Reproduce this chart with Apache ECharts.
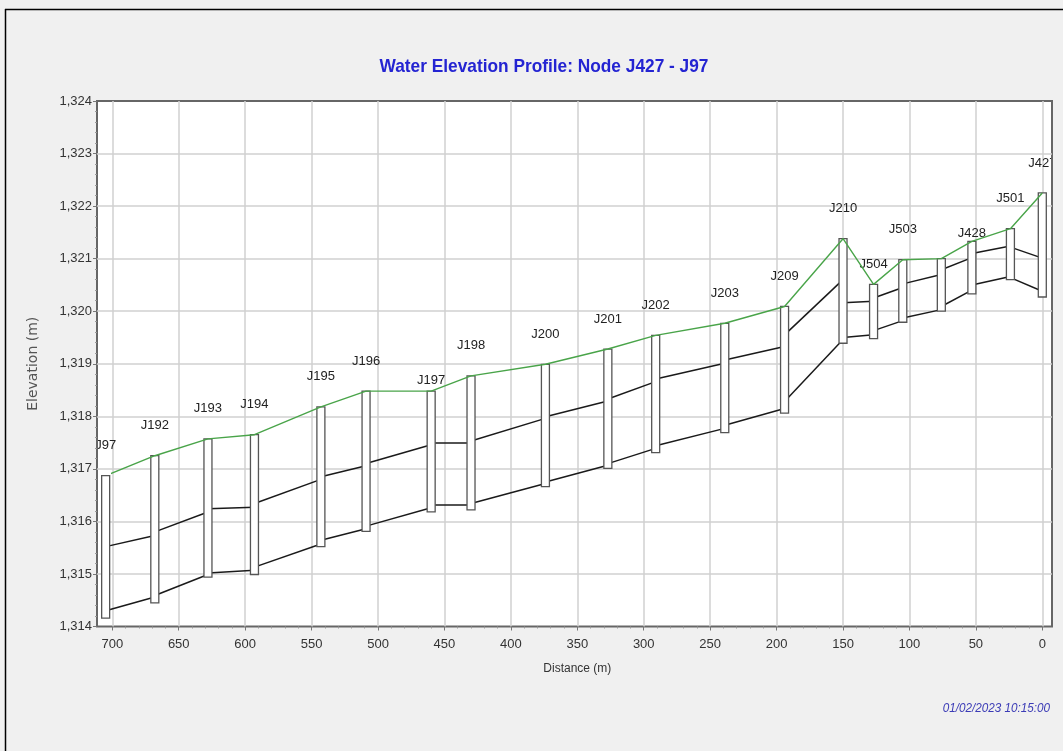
<!DOCTYPE html>
<html>
<head>
<meta charset="utf-8">
<script src="https://cdn.jsdelivr.net/npm/echarts@6/dist/echarts.min.js"></script>
<style>
  html, body { margin: 0; padding: 0; background: #f0f0f0; }
  #chart { width: 1063px; height: 751px; }
</style>
</head>
<body>
<div id="chart"></div>
<script>
// Nodes along the profile, listed from the far end (J97) to J427
const nodeNames = ['J97', 'J192', 'J193', 'J194', 'J195', 'J196', 'J197', 'J198', 'J200', 'J201',
                   'J202', 'J203', 'J209', 'J210', 'J504', 'J503', '', 'J428', 'J501', 'J427'];
// Distance from J427 (m)
const distance = [705, 668, 628, 593, 543, 509, 460, 430, 374, 327, 291, 239, 194, 150, 127, 105, 76, 53, 24, 0];
// Water (hydraulic grade) elevation at each node (m)
const waterElevation = [1316.87, 1317.25, 1317.57, 1317.65, 1318.18, 1318.48, 1318.48, 1318.77, 1318.99, 1319.28,
                        1319.54, 1319.77, 1320.09, 1321.38, 1320.51, 1320.98, 1321.00, 1321.33, 1321.57, 1322.25];
// Bottom of each node structure (m)
const nodeBase = [1314.16, 1314.45, 1314.94, 1314.99, 1315.52, 1315.81, 1316.18, 1316.22, 1316.66, 1317.01,
                  1317.31, 1317.69, 1318.06, 1319.39, 1319.48, 1319.79, 1320.00, 1320.33, 1320.60, 1320.27];
// Pipe crown / invert where a pipe meets a node:
// "In" = pipe arriving from the left-hand neighbour, "Out" = pipe leaving to the right-hand neighbour
const crownIn   = [null, 1315.73, 1316.18, 1316.27, 1316.80, 1317.06, 1317.46, 1317.50, 1317.96, 1318.29,
                   1318.66, 1319.01, 1319.33, 1320.60, 1320.19, 1320.45, 1320.70, 1321.02, 1321.24, 1321.01];
const crownOut  = [1315.52, 1315.80, 1316.24, 1316.34, 1316.85, 1317.10, 1317.50, 1317.53, 1317.99, 1318.33,
                   1318.71, 1319.07, 1319.55, 1320.16, 1320.25, 1320.52, 1320.79, 1321.10, 1321.22, null];
const invertIn  = [null, 1314.56, 1314.99, 1315.07, 1315.57, 1315.86, 1316.26, 1316.31, 1316.72, 1317.07,
                   1317.39, 1317.77, 1318.15, 1319.46, 1319.55, 1319.82, 1320.03, 1320.40, 1320.66, 1320.38];
const invertOut = [1314.30, 1314.59, 1315.02, 1315.13, 1315.64, 1315.91, 1316.31, 1316.34, 1316.75, 1317.10,
                   1317.44, 1317.83, 1318.28, 1319.50, 1319.63, 1319.87, 1320.09, 1320.50, 1320.64, null];

// Axis ranges
const elevationMin = 1314, elevationMax = 1324;
const frameDistanceMin = -7.3, frameDistanceMax = 711.5;   // extent of the plot frame
const scaleDistanceMin = 0, scaleDistanceMax = 700;        // labelled distance scale

const titleText = 'Water Elevation Profile: Node J427 - J97';
const timeStamp = '01/02/2023 10:15:00';

// Label placement (pixels above the node top); a few labels sit lower
const labelLiftDefault = 30;
const labelLift = { J197: 11, J504: 20, J428: 8 };

const sans = '"Liberation Sans", Arial, sans-serif';

// Pipe segments between neighbouring nodes
const crownSegments = [];
const invertSegments = [];
for (let i = 0; i < distance.length - 1; i++) {
  crownSegments.push({ coords: [[distance[i], crownOut[i]], [distance[i + 1], crownIn[i + 1]]] });
  invertSegments.push({ coords: [[distance[i], invertOut[i]], [distance[i + 1], invertIn[i + 1]]] });
}

const hiddenAxis = {
  show: false,
  axisLine: { show: false, onZero: false }, axisTick: { show: false }, minorTick: { show: false },
  axisLabel: { show: false }, splitLine: { show: false }, minorSplitLine: { show: false }
};

const chart = echarts.init(document.getElementById('chart'));

chart.setOption({
  backgroundColor: '#f0f0f0',
  animation: false,
  graphic: [
    { type: 'line', shape: { x1: 5, y1: 9.5, x2: 1063, y2: 9.5 }, style: { stroke: '#000', lineWidth: 1.5 }, z: 50 },
    { type: 'line', shape: { x1: 5.5, y1: 9, x2: 5.5, y2: 751 }, style: { stroke: '#000', lineWidth: 1.5 }, z: 50 },
    {
      type: 'text', x: 544, y: 67, scaleX: 0.91, z: 50,
      style: { text: titleText, align: 'center', verticalAlign: 'middle',
               font: 'bold 19px ' + sans, fill: '#2424d2' }
    },
    {
      type: 'text', x: 1050, y: 708, scaleX: 0.9, z: 50,
      style: { text: timeStamp, align: 'right', verticalAlign: 'middle',
               font: 'italic 13px ' + sans, fill: '#3b3bb6' }
    }
  ],
  grid: [
    // plot frame
    { left: 97, right: 11, top: 101, bottom: 124.5, show: true, backgroundColor: '#ffffff',
      borderColor: '#666666', borderWidth: 2 },
    // labelled distance scale
    { left: 112.3, right: 20.7, top: 101, bottom: 124.5 }
  ],
  xAxis: [
    Object.assign({ gridIndex: 0, type: 'value', min: frameDistanceMin, max: frameDistanceMax, inverse: true }, hiddenAxis),
    {
      gridIndex: 1, type: 'value', min: scaleDistanceMin, max: scaleDistanceMax, interval: 50, inverse: true,
      position: 'bottom',
      axisLine: { show: false, onZero: false },
      axisTick: { show: true, length: 4, lineStyle: { color: '#777' } },
      minorTick: { show: true, splitNumber: 5, length: 2, lineStyle: { color: '#999' } },
      axisLabel: { margin: 11, fontSize: 13, color: '#333', fontFamily: sans },
      splitLine: { show: true, lineStyle: { color: '#d0d0d0', width: 1.5 } },
      name: 'Distance (m)', nameLocation: 'middle', nameGap: 36,
      nameTextStyle: { fontSize: 12, color: '#333', fontFamily: sans }
    }
  ],
  yAxis: [
    {
      gridIndex: 0, type: 'value', min: elevationMin, max: elevationMax, interval: 1, position: 'left',
      axisLine: { show: false, onZero: false },
      axisTick: { show: true, length: 4, lineStyle: { color: '#777' } },
      minorTick: { show: true, splitNumber: 5, length: 2, lineStyle: { color: '#999' } },
      axisLabel: { margin: 5, fontSize: 13, color: '#333', fontFamily: sans,
                   formatter: v => v.toLocaleString('en-US') },
      splitLine: { show: true, showMinLine: false, showMaxLine: false,
                   lineStyle: { color: '#d0d0d0', width: 1.5 } },
      name: 'Elevation (m)', nameLocation: 'middle', nameGap: 57,
      nameTextStyle: { fontSize: 14, color: '#555', fontFamily: '"DejaVu Sans", sans-serif' }
    },
    Object.assign({ gridIndex: 1, type: 'value', min: elevationMin, max: elevationMax, position: 'left' }, hiddenAxis)
  ],
  series: [
    {
      name: 'Pipe crown', type: 'lines', coordinateSystem: 'cartesian2d',
      xAxisIndex: 1, yAxisIndex: 1, z: 2, silent: true, clip: false,
      lineStyle: { color: '#1a1a1a', width: 1.5, opacity: 1 },
      data: crownSegments
    },
    {
      name: 'Pipe invert', type: 'lines', coordinateSystem: 'cartesian2d',
      xAxisIndex: 1, yAxisIndex: 1, z: 2, silent: true, clip: false,
      lineStyle: { color: '#1a1a1a', width: 1.5, opacity: 1 },
      data: invertSegments
    },
    {
      name: 'Nodes', type: 'custom', xAxisIndex: 1, yAxisIndex: 1, z: 3, silent: true, clip: false,
      data: distance.map((d, i) => [d, waterElevation[i], nodeBase[i]]),
      encode: { x: 0, y: [1, 2] },
      renderItem(params, api) {
        const top = api.coord([api.value(0), api.value(1)]);
        const bottom = api.coord([api.value(0), api.value(2)]);
        // plot frame corners, used to clip labels at the frame edge
        const frameTL = api.coord([frameDistanceMax, elevationMax]);
        const frameBR = api.coord([frameDistanceMin, elevationMin]);
        const w = 8;
        const name = nodeNames[params.dataIndex];
        const lift = labelLift[name] !== undefined ? labelLift[name] : labelLiftDefault;
        return {
          type: 'group',
          children: [
            {
              type: 'rect',
              shape: { x: top[0] - w / 2, y: top[1], width: w, height: bottom[1] - top[1] },
              style: { fill: '#ffffff', stroke: '#555555', lineWidth: 1.3 }
            },
            {
              type: 'text',
              style: {
                text: name, x: top[0], y: top[1] - lift,
                align: 'center', verticalAlign: 'middle',
                fontSize: 13, fontFamily: sans, fill: '#222'
              },
              clipPath: {
                type: 'rect',
                shape: { x: frameTL[0] + 1, y: frameTL[1], width: frameBR[0] - frameTL[0] - 2, height: frameBR[1] - frameTL[1] }
              }
            }
          ]
        };
      }
    },
    {
      name: 'Water elevation', type: 'line', xAxisIndex: 1, yAxisIndex: 1, z: 4,
      silent: true, clip: false, symbol: 'none',
      lineStyle: { color: '#49a449', width: 1.4 },
      data: distance.map((d, i) => [d, waterElevation[i]])
    }
  ]
});
</script>
</body>
</html>
